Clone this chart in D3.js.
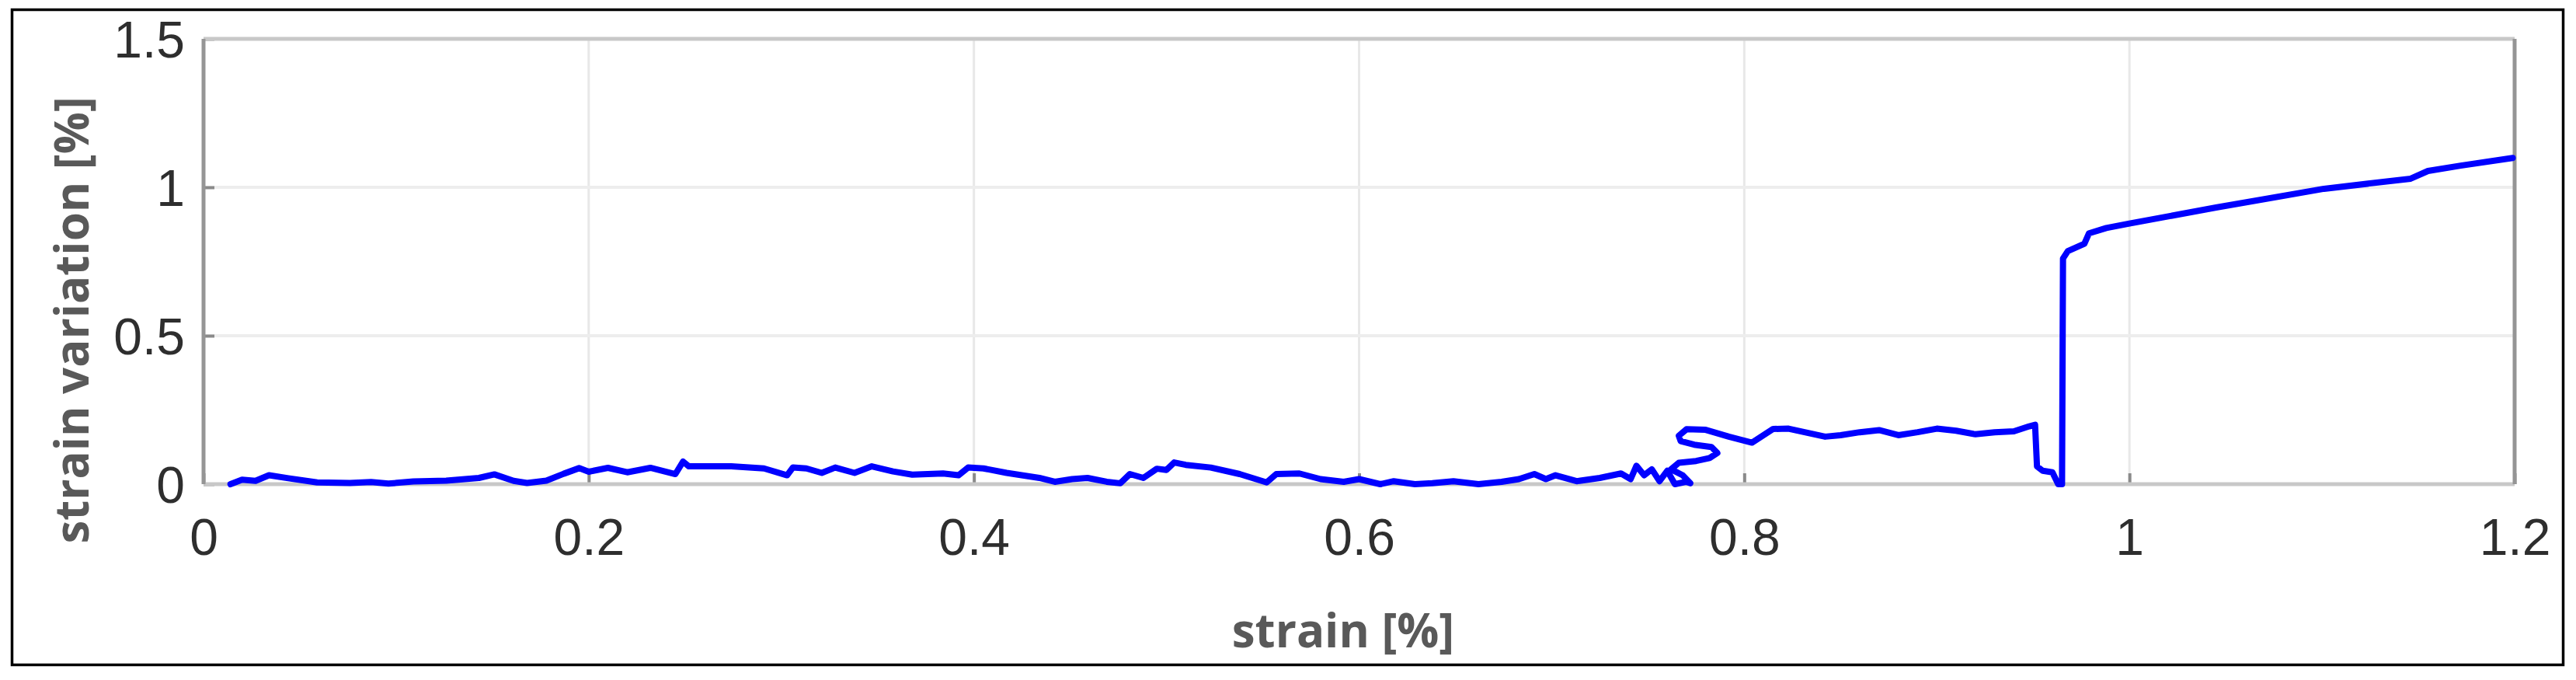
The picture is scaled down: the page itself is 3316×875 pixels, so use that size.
<!DOCTYPE html>
<html>
<head>
<meta charset="utf-8">
<script src="https://cdn.jsdelivr.net/npm/d3@7"></script>
<style>
  body { margin: 0; background: #fff; }
  svg { display: block; }
</style>
</head>
<body>
<div class="graph"></div>
<script>
// datos
const strain = [
  0.014, 0.020, 0.027, 0.034, 0.044, 0.059, 0.076, 0.087, 0.096, 0.109,
  0.126, 0.143, 0.151, 0.161, 0.168, 0.178, 0.187, 0.195, 0.200, 0.210,
  0.220, 0.232, 0.245, 0.249, 0.252, 0.264, 0.274, 0.291, 0.303, 0.306,
  0.313, 0.321, 0.328, 0.338, 0.347, 0.358, 0.368, 0.384, 0.392, 0.397,
  0.405, 0.417, 0.434, 0.442, 0.451, 0.459, 0.469, 0.476, 0.481, 0.488,
  0.495, 0.500, 0.504, 0.510, 0.523, 0.538, 0.552, 0.557, 0.569, 0.580,
  0.592, 0.600, 0.611, 0.618, 0.629, 0.638, 0.649, 0.662, 0.674, 0.683,
  0.691, 0.697, 0.702, 0.713, 0.725, 0.736, 0.741, 0.744, 0.748, 0.752,
  0.756, 0.760, 0.764, 0.770, 0.772, 0.768, 0.762, 0.766, 0.775, 0.782,
  0.786, 0.783, 0.774, 0.767, 0.766, 0.770, 0.780, 0.792, 0.804, 0.815,
  0.823, 0.842, 0.850, 0.860, 0.870, 0.880, 0.890, 0.900, 0.910, 0.920,
  0.930, 0.940, 0.948, 0.951, 0.952, 0.955, 0.960, 0.963, 0.965, 0.9655,
  0.968, 0.9766, 0.979, 0.988, 1.000, 1.045, 1.101, 1.146, 1.155, 1.172,
  1.199
]
const strainVariation = [
  0.000, 0.015, 0.011, 0.030, 0.020, 0.006, 0.004, 0.007, 0.002, 0.009,
  0.012, 0.021, 0.033, 0.011, 0.004, 0.012, 0.035, 0.054, 0.042, 0.055,
  0.040, 0.055, 0.034, 0.076, 0.060, 0.060, 0.060, 0.053, 0.030, 0.056,
  0.053, 0.038, 0.056, 0.038, 0.060, 0.043, 0.032, 0.036, 0.030, 0.056,
  0.053, 0.038, 0.021, 0.008, 0.017, 0.021, 0.008, 0.003, 0.034, 0.021,
  0.052, 0.048, 0.073, 0.065, 0.056, 0.034, 0.006, 0.034, 0.036, 0.017,
  0.008, 0.017, 0.000, 0.010, 0.000, 0.003, 0.010, 0.000, 0.008, 0.017,
  0.034, 0.017, 0.030, 0.010, 0.021, 0.036, 0.017, 0.062, 0.030, 0.050,
  0.010, 0.045, 0.000, 0.008, 0.003, 0.030, 0.050, 0.072, 0.078, 0.088,
  0.105, 0.125, 0.133, 0.145, 0.163, 0.185, 0.183, 0.160, 0.140, 0.186,
  0.187, 0.160, 0.165, 0.175, 0.182, 0.165, 0.175, 0.187, 0.180, 0.168,
  0.175, 0.178, 0.195, 0.200, 0.060, 0.045, 0.040, 0.000, 0.000, 0.760,
  0.785, 0.810, 0.845, 0.863, 0.878, 0.932, 0.995, 1.029, 1.055, 1.073,
  1.099
]
const xTicks = [0, 0.2, 0.4, 0.6, 0.8, 1, 1.2]
const yTicks = [0, 0.5, 1, 1.5]

const width = 3316, height = 875
const margin = {left: 262, right: 3237, top: 50, bottom: 623}

const colorLinea = '#0000ff'
const colorTexto = '#2e2e2e'
const colorEtiqueta = '#595959'

const svg = d3.select('.graph')
              .append('svg')
              .attr('width', width)
              .attr('height', height)

svg.append('rect')
   .attr('width', width).attr('height', height)
   .attr('fill', '#fff')

// marco exterior
svg.append('rect')
   .attr('x', 15.5).attr('y', 12.5)
   .attr('width', 3284).attr('height', 843)
   .attr('fill', 'none')
   .attr('stroke', '#000')
   .attr('stroke-width', 3.5)

const xScale = d3.scaleLinear().domain([0, 1.2]).range([margin.left, margin.right])
const yScale = d3.scaleLinear().domain([0, 1.5]).range([margin.bottom, margin.top])

// rejilla
svg.append('g')
   .selectAll('line')
   .data(xTicks.slice(1, -1))
   .enter()
   .append('line')
   .attr('x1', d => xScale(d)).attr('x2', d => xScale(d))
   .attr('y1', margin.top).attr('y2', margin.bottom)
   .attr('stroke', '#e8e8e8')
   .attr('stroke-width', 3)

svg.append('g')
   .selectAll('line')
   .data(yTicks.slice(1, -1))
   .enter()
   .append('line')
   .attr('y1', d => yScale(d)).attr('y2', d => yScale(d))
   .attr('x1', margin.left).attr('x2', margin.right)
   .attr('stroke', '#ededed')
   .attr('stroke-width', 4)

// ejes (ticks hacia dentro, estilo matlab)
const xAxis = d3.axisBottom(xScale)
                .tickValues(xTicks)
                .tickSize(-14)
                .tickSizeOuter(0)
                .tickFormat(d3.format('~g'))
const yAxis = d3.axisLeft(yScale)
                .tickValues(yTicks)
                .tickSize(-14)
                .tickSizeOuter(0)
                .tickFormat(d3.format('~g'))

const gx = svg.append('g')
              .attr('id', 'x-axis')
              .attr('transform', `translate(0,${margin.bottom})`)
              .call(xAxis)
const gy = svg.append('g')
              .attr('id', 'y-axis')
              .attr('transform', `translate(${margin.left},0)`)
              .call(yAxis)

for (const g of [gx, gy]) {
  g.select('.domain').remove()
  g.selectAll('.tick line').attr('stroke', '#8a8a8a').attr('stroke-width', 4)
  g.selectAll('.tick text')
   .attr('fill', colorTexto)
   .style('font-family', '"Liberation Sans", Arial, sans-serif')
   .style('font-size', '66px')
}
gx.selectAll('.tick text').attr('dy', null).attr('y', 91)
gy.selectAll('.tick text').attr('dy', '0.36em').attr('x', -24)

// caja de la gráfica
svg.append('line')
   .attr('x1', margin.left).attr('x2', margin.right)
   .attr('y1', margin.top).attr('y2', margin.top)
   .attr('stroke', '#c8c8c8').attr('stroke-width', 5)
svg.append('line')
   .attr('x1', margin.left).attr('x2', margin.right)
   .attr('y1', margin.bottom).attr('y2', margin.bottom)
   .attr('stroke', '#c8c8c8').attr('stroke-width', 5)
svg.append('line')
   .attr('x1', margin.left).attr('x2', margin.left)
   .attr('y1', margin.top).attr('y2', margin.bottom)
   .attr('stroke', '#959595').attr('stroke-width', 5)
svg.append('line')
   .attr('x1', margin.right).attr('x2', margin.right)
   .attr('y1', margin.top).attr('y2', margin.bottom)
   .attr('stroke', '#959595').attr('stroke-width', 5)

// curva
const data = strain.map((d, i) => [d, strainVariation[i]])

const line = d3.line()
               .x(d => xScale(d[0]))
               .y(d => yScale(d[1]))

svg.append('path')
   .datum(data)
   .attr('d', line)
   .attr('fill', 'none')
   .attr('stroke', colorLinea)
   .attr('stroke-width', 8)
   .attr('stroke-linejoin', 'round')
   .attr('stroke-linecap', 'round')

// títulos de ejes
svg.append('text')
   .text('strain [%]')
   .attr('x', 1729)
   .attr('y', 833)
   .attr('text-anchor', 'middle')
   .attr('fill', colorEtiqueta)
   .style('font-family', '"Open Sans", sans-serif')
   .style('font-weight', 'bold')
   .style('font-size', '60px')

svg.append('text')
   .text('strain variation [%]')
   .attr('transform', 'translate(114,412) rotate(-90)')
   .attr('text-anchor', 'middle')
   .attr('fill', colorEtiqueta)
   .style('font-family', '"Open Sans", sans-serif')
   .style('font-weight', 'bold')
   .style('font-size', '60px')
</script>
</body>
</html>
